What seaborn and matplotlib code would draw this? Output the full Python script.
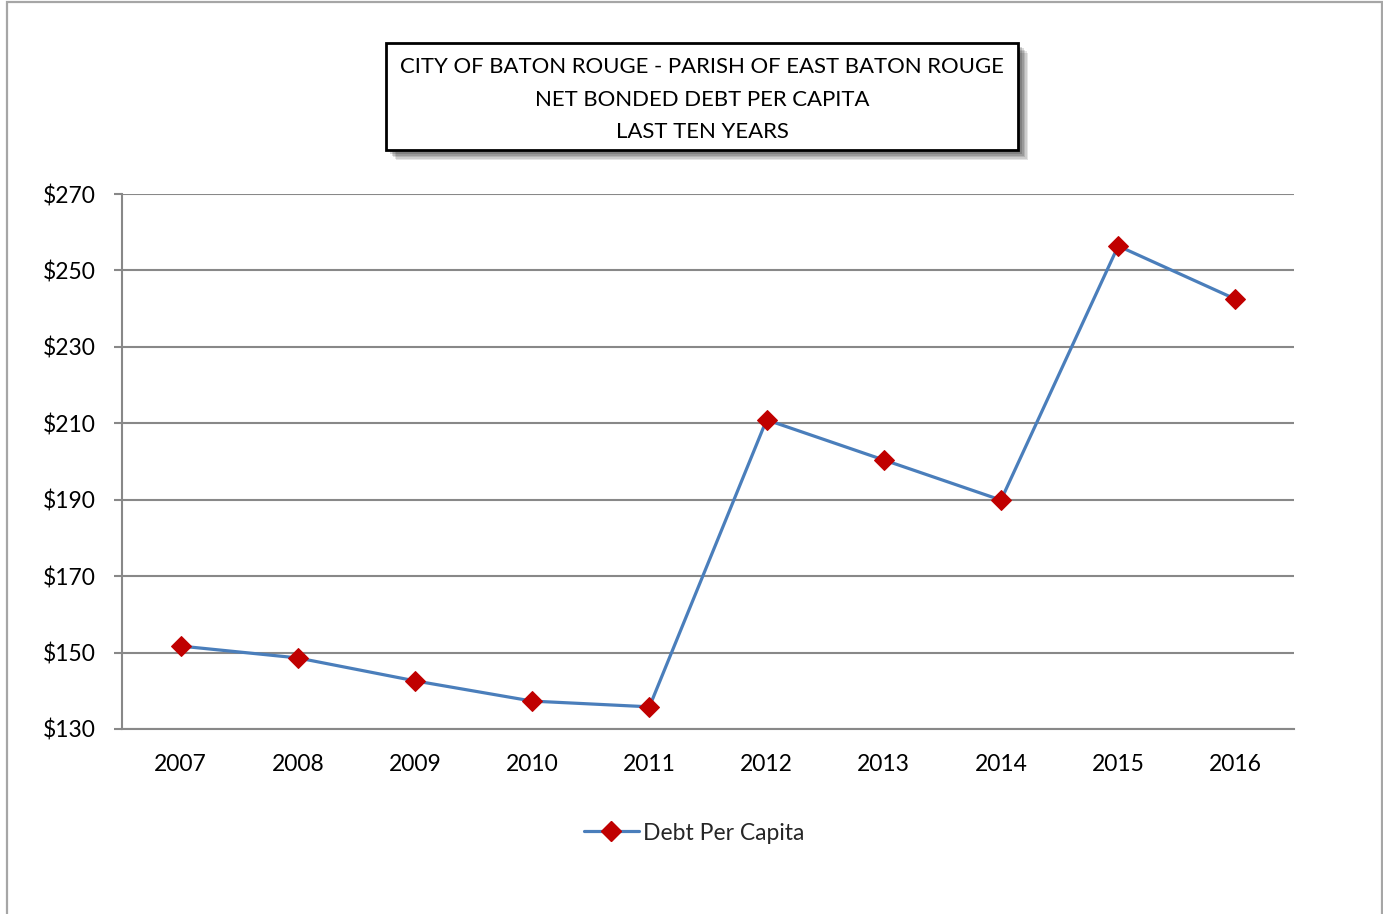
import matplotlib
matplotlib.use("Agg")
import matplotlib.pyplot as plt
import seaborn as sns
import pandas as pd
import numpy as np
from matplotlib.patches import Rectangle
from matplotlib.lines import Line2D
from matplotlib.ticker import FixedLocator, FuncFormatter

years = ["2007", "2008", "2009", "2010", "2011", "2012", "2013", "2014", "2015", "2016"]
debt_per_capita = [151.7, 148.6, 142.6, 137.3, 135.8, 210.9, 200.4, 189.9, 256.4, 242.5]
y_ticks = [130, 150, 170, 190, 210, 230, 250, 270]
series_name = "Debt Per Capita"
title_lines = ["CITY OF BATON ROUGE - PARISH OF EAST BATON ROUGE",
               "NET BONDED DEBT PER CAPITA",
               "LAST TEN YEARS"]

sns.set_theme(style="white")
plt.rcParams["font.family"] = ["Lato", "DejaVu Sans"]

df = pd.DataFrame({"Year": years, "Value": debt_per_capita})

W, H = 1383, 914
FS = 16.5
fig = plt.figure(figsize=(W / 100, H / 100), dpi=100)
fig.patch.set_facecolor("white")

# outer chart border
fig.add_artist(Rectangle((7 / W, -0.05), (1382 - 7) / W, 1.05 - 2 / H,
                         transform=fig.transFigure, fill=False,
                         edgecolor="#a6a6a6", linewidth=1.6))

ax = fig.add_axes([122 / W, 1 - 729 / H, (1294 - 122) / W, (729 - 194) / H])

grid_col = "#888888"
sns.lineplot(data=df, x="Year", y="Value", ax=ax, sort=False,
             color="#4a7ebb", linewidth=2.3, marker="D", markersize=10.5,
             markerfacecolor="#c00000", markeredgecolor="#c00000",
             label=series_name, zorder=5)

ax.set_xlim(-0.5, len(years) - 0.5)
ax.set_ylim(130, 270)
ax.yaxis.set_major_locator(FixedLocator(y_ticks))
ax.yaxis.set_major_formatter(FuncFormatter(lambda v, p: f"${v:.0f}"))
ax.grid(axis="y", color=grid_col, linewidth=1.5)
ax.set_axisbelow(True)
ax.set_xlabel("")
ax.set_ylabel("")

for s in ["top", "right"]:
    ax.spines[s].set_visible(False)
for s in ["left", "bottom"]:
    ax.spines[s].set_color(grid_col)
    ax.spines[s].set_linewidth(1.5)

ax.set_xticks(range(len(years)))
ax.set_xticklabels(years)
ax.set_xticks(np.arange(-0.5, len(years), 1.0), minor=True)
ax.tick_params(axis="x", which="major", length=0, pad=18, labelsize=FS, colors="black")
ax.tick_params(axis="x", which="minor", length=8, width=1.5, color=grid_col, direction="out")
ax.tick_params(axis="y", which="major", length=6, width=1.5, color=grid_col,
               direction="out", pad=13, labelsize=FS, labelcolor="black", left=True)

# legend
if ax.legend_:
    ax.legend_.remove()
handle = Line2D([], [], color="#4a7ebb", linewidth=2.3, marker="D", markersize=10.5,
                markerfacecolor="#c00000", markeredgecolor="#c00000")
fig.legend([handle], [series_name], loc="center", bbox_to_anchor=(694 / W, 1 - 833 / H),
           frameon=False, fontsize=FS, handlelength=2.4, handletextpad=0.2)

# title box with shadow
bx0, by0, bx1, by1 = 386, 43, 1018, 150
for i, a in enumerate([0.10, 0.10, 0.12, 0.14, 0.16]):
    off = 10 - i * 1.5
    fig.add_artist(Rectangle(((bx0 + off) / W, 1 - (by1 + off) / H), (bx1 - bx0) / W, (by1 - by0) / H,
                             transform=fig.transFigure, facecolor="black", edgecolor="none",
                             alpha=a))
fig.add_artist(Rectangle((bx0 / W, 1 - by1 / H), (bx1 - bx0) / W, (by1 - by0) / H,
                         transform=fig.transFigure, facecolor="white", edgecolor="black",
                         linewidth=2))
for i, t in enumerate(title_lines):
    fig.text(702 / W, 1 - (67 + i * 32.5) / H, t, ha="center", va="center",
             fontsize=15.9, color="black")

fig.savefig("out.png", dpi=100)
